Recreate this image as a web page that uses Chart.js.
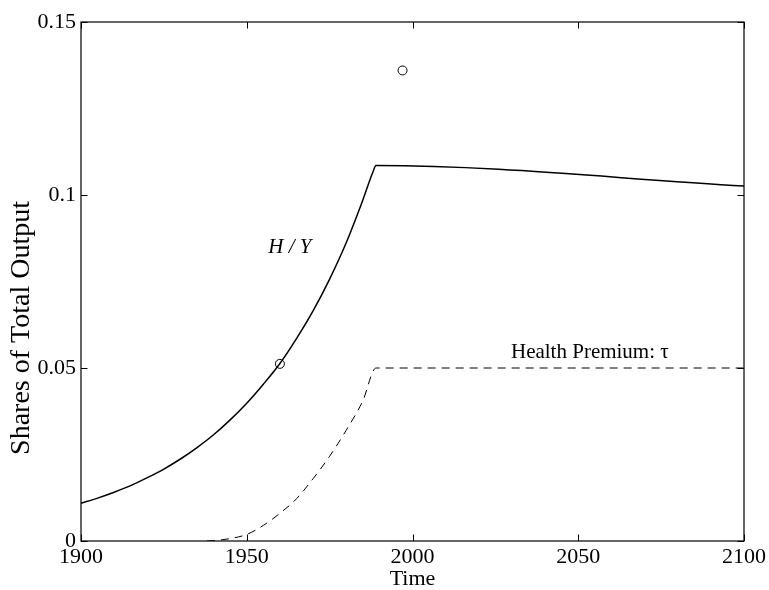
<!DOCTYPE html>
<html lang="en">
<head>
<meta charset="UTF-8">
<title>Shares of Total Output</title>
<script src="https://cdn.jsdelivr.net/npm/chart.js@4.4.1/dist/chart.umd.min.js"></script>
<style>
  html, body { margin: 0; padding: 0; background: #fff; }
  #wrap { width: 769px; height: 590px; position: relative; }
</style>
</head>
<body>
<div id="wrap"><canvas id="chart"></canvas></div>
<script>
// H/Y
var hyYears  = [1900, 1905, 1910, 1915, 1920, 1925, 1930, 1935, 1940, 1945, 1950, 1955, 1960, 1965, 1970, 1975, 1980, 1985, 1988, 1989, 2100];
var hyValues = [0.0109, 0.0124, 0.0141, 0.0160, 0.0183, 0.0208, 0.0237, 0.0270, 0.0307, 0.0350, 0.0398, 0.0453, 0.0513, 0.0585, 0.0665, 0.0757, 0.0862, 0.0985, 0.1065, 0.1085, 0.1026];

// health premium tau (dashed)
var tauYears  = [1938, 1940, 1945, 1950, 1955, 1960, 1965, 1970, 1975, 1980, 1985, 1989, 2100];
var tauValues = [0, 0.0001, 0.0007, 0.0019, 0.0045, 0.0080, 0.0122, 0.0180, 0.0245, 0.0320, 0.0405, 0.0500, 0.0500];

// the two circles
var obsYears  = [1960, 1997];
var obsValues = [0.0512, 0.1360];

var xTicks = [1900, 1950, 2000, 2050, 2100];
var yTicks = [0, 0.05, 0.1, 0.15];

function pts(xs, ys) {
    return xs.map(function (x, i) { return { x: x, y: ys[i] }; });
}

var serif = '"Liberation Serif", "DejaVu Serif", serif';

// box, inward ticks (matlab style), y label and the two text labels
var frame = {
    id: 'frame',
    afterDatasetsDraw: function (chart) {
        var ctx = chart.ctx, a = chart.chartArea;
        var sx = chart.scales.x, sy = chart.scales.y;
        var tl = 6.5;
        ctx.save();
        ctx.strokeStyle = '#000';
        ctx.lineWidth = 1.2;
        ctx.strokeRect(a.left, a.top, a.right - a.left, a.bottom - a.top);
        ctx.beginPath();
        xTicks.forEach(function (v) {
            var px = Math.round(sx.getPixelForValue(v)) + 0.5;
            ctx.moveTo(px, a.bottom); ctx.lineTo(px, a.bottom - tl);
            ctx.moveTo(px, a.top); ctx.lineTo(px, a.top + tl);
        });
        yTicks.forEach(function (v) {
            var py = Math.round(sy.getPixelForValue(v)) + 0.5;
            ctx.moveTo(a.left, py); ctx.lineTo(a.left + tl, py);
            ctx.moveTo(a.right, py); ctx.lineTo(a.right - tl, py);
        });
        ctx.lineWidth = 1;
        ctx.stroke();

        ctx.fillStyle = '#000';
        ctx.textAlign = 'center';
        ctx.textBaseline = 'middle';
        ctx.font = 'italic 21px ' + serif;
        ctx.fillText('H / Y', sx.getPixelForValue(1963), sy.getPixelForValue(0.0847));
        ctx.font = '21px ' + serif;
        ctx.fillText('Health Premium: \u03C4', sx.getPixelForValue(2053.5), sy.getPixelForValue(0.0546));

        // y label sits a bit below the middle of the axis in the original
        ctx.translate(29, 328);
        ctx.rotate(-Math.PI / 2);
        ctx.textBaseline = 'alphabetic';
        ctx.font = '28px ' + serif;
        ctx.fillText('Shares of Total Output', 0, 0);
        ctx.restore();
    }
};

new Chart(document.getElementById('chart'), {
    type: 'scatter',
    data: {
        datasets: [
            {
                label: 'H/Y',
                data: pts(hyYears, hyValues),
                showLine: true,
                borderColor: '#000',
                borderWidth: 1.5,
                pointRadius: 0,
                cubicInterpolationMode: 'monotone'
            },
            {
                label: 'Health Premium',
                data: pts(tauYears, tauValues),
                showLine: true,
                borderColor: '#000',
                borderWidth: 1,
                borderDash: [8, 6],
                pointRadius: 0,
                cubicInterpolationMode: 'monotone'
            },
            {
                label: 'data',
                data: pts(obsYears, obsValues),
                showLine: false,
                borderColor: '#000',
                backgroundColor: 'rgba(0,0,0,0)',
                borderWidth: 1,
                pointRadius: 4.5
            }
        ]
    },
    options: {
        responsive: true,
        maintainAspectRatio: false,
        animation: false,
        layout: { padding: { left: 0, top: 22, right: 25, bottom: 0 } },
        plugins: {
            legend: { display: false },
            tooltip: { enabled: false }
        },
        scales: {
            x: {
                type: 'linear',
                min: 1900,
                max: 2100,
                afterBuildTicks: function (s) { s.ticks = xTicks.map(function (v) { return { value: v }; }); },
                afterFit: function (s) { s.height = 49; },
                grid: { display: false, drawTicks: false },
                border: { display: false },
                ticks: {
                    color: '#000',
                    padding: 3,
                    maxRotation: 0,
                    font: { family: serif, size: 22 },
                    callback: function (v) { return String(v); }
                },
                title: {
                    display: true,
                    text: 'Time',
                    color: '#000',
                    font: { family: serif, size: 22, lineHeight: 1 },
                    padding: { top: -3, bottom: 0 }
                }
            },
            y: {
                min: 0,
                max: 0.15,
                afterBuildTicks: function (s) { s.ticks = yTicks.map(function (v) { return { value: v }; }); },
                afterFit: function (s) { s.width = 81; },
                grid: { display: false, drawTicks: false },
                border: { display: false },
                ticks: {
                    color: '#000',
                    padding: 5,
                    font: { family: serif, size: 22 },
                    callback: function (v) { return String(v); }
                },
                title: { display: false }
            }
        }
    },
    plugins: [frame]
});
</script>
</body>
</html>
